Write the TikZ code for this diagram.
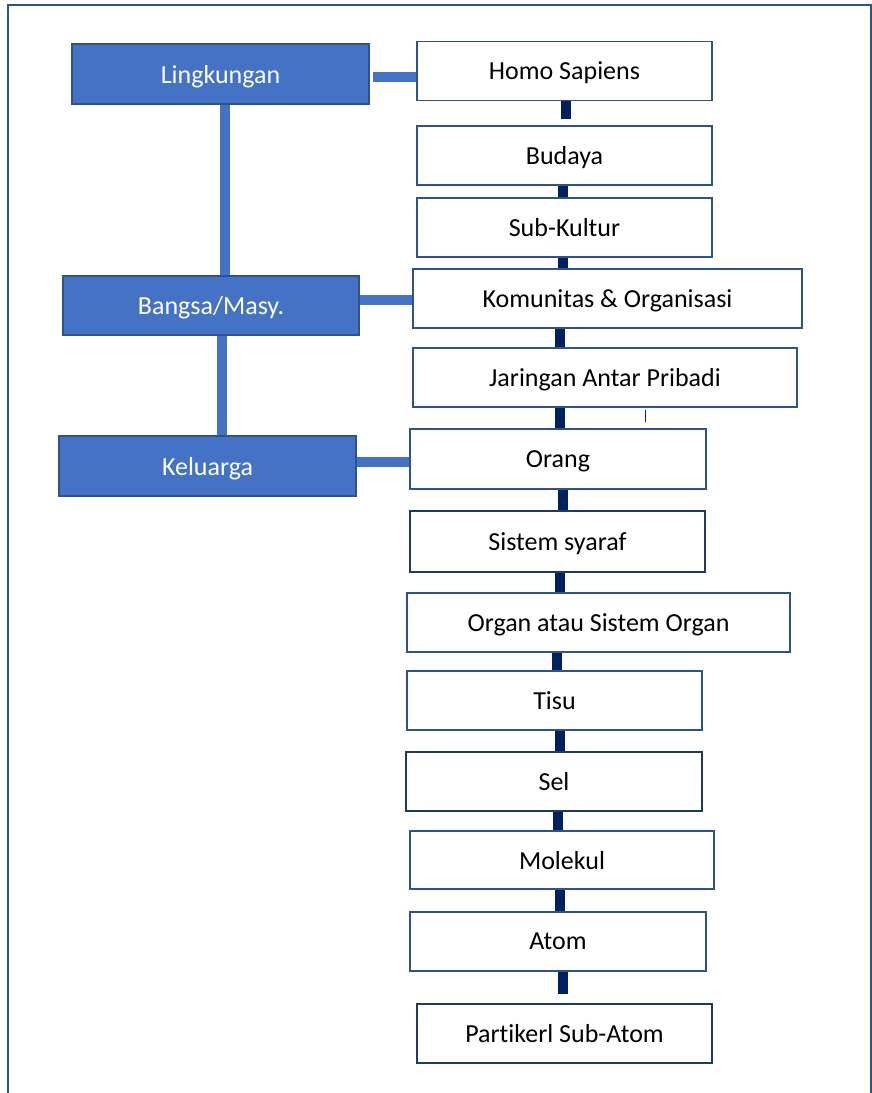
\documentclass[tikz,border=0pt]{standalone}
\usepackage{fontspec}
\setmainfont{Carlito}[Ligatures=CommonOff]
\usepackage{tikz}
\usetikzlibrary{positioning}
\definecolor{accblue}{HTML}{4472C4}
\definecolor{edgeblue}{HTML}{2F528F}
\definecolor{navy}{HTML}{002060}
\definecolor{deepnavy}{HTML}{1F3864}

\begin{document}
\begin{tikzpicture}[x=1pt,y=-1pt,
		level/.style={
		  draw=edgeblue,
		  line width=1.6pt,
		  fill=white,
		  minimum height=59pt,
		  inner sep=0pt,
		  text depth=0pt,
		  font=\fontsize{26}{30}\selectfont
		},
		strong/.style={
		  level,
		  draw=deepnavy,
		  line width=2.2pt
		},
		group/.style={
		  level,
		  fill=accblue,
		  text=white,
		  minimum width=297pt,
		  minimum height=60pt
		},
		link/.style={navy,line width=10pt},
		tie/.style={accblue,line width=10pt}
		]
		\useasboundingbox (0,0) rectangle (872,1093);
		\draw[edgeblue,line width=2pt] (8,1093) -- (8,5) -- (871,5) -- (871,1093);

		% right column
		\node[level,minimum width=295pt] at (564.5,71)
		  (homo) {Homo Sapiens};
		\node[level,minimum width=295pt] at (564.5,155.5)
		  (budaya) {Budaya};
		\node[level,minimum width=295pt] at (564.5,227.5)
		  (subkultur) {Sub-Kultur};
		\node[level,minimum width=389pt] at (607.5,298.5)
		  (komunitas) {Komunitas \& Organisasi};
		\node[level,minimum width=384pt] at (605,377.5)
		  (jaringan) {Jaringan Antar Pribadi};
		\node[level,minimum width=296pt,minimum height=60pt] at (558,459)
		  (orang) {Orang};
		\node[strong,minimum width=295pt,minimum height=61pt] at (557.5,541.5)
		  (syaraf) {Sistem syaraf};
		\node[level,minimum width=383pt] at (598.5,622.5)
		  (organ) {Organ atau Sistem Organ};
		\node[level,minimum width=295pt] at (554.5,700.5)
		  (tisu) {Tisu};
		\node[strong,minimum width=296pt] at (554,781.5)
		  (sel) {Sel};
		\node[level,minimum width=304pt,minimum height=58pt] at (562,860)
		  (molekul) {Molekul};
		\node[level,minimum width=296pt] at (558,941.5)
		  (atom) {Atom};
		\node[strong,minimum width=295pt] at (564.5,1033.5)
		  (partikel) {Partikerl Sub-Atom};

		% left column
		\node[group] at (220.5,74) (lingkungan) {Lingkungan};
		\node[group,minimum width=296pt,minimum height=59pt] at (211,305.5) (bangsa) {Bangsa/Masy.};
		\node[group] at (207.5,466) (keluarga) {Keluarga};

		\foreach \a/\b/\x/\t in {homo/budaya/566/6,budaya/subkultur/563/0,
		    subkultur/komunitas/563/0,komunitas/jaringan/560/0,jaringan/orang/560/0,
		    orang/syaraf/563/0,syaraf/organ/560/0,organ/tisu/557/0,tisu/sel/560/0,
		    sel/molekul/558/0,molekul/atom/560/0,atom/partikel/563/9}
		  \draw[link,shorten >=\t pt] (\a.south -| \x,0) -- (\b.north -| \x,0);

		\draw[tie] (lingkungan.south -| 225,0) -- (bangsa.north -| 225,0);
		\draw[tie] (bangsa.south -| 222,0) -- (keluarga.north -| 222,0);
		\draw[tie,shorten <=3pt] (lingkungan.east |- 0,77) -- (homo.west |- 0,77);
		\draw[tie] (bangsa.east |- 0,300) -- (komunitas.west |- 0,300);
		\draw[tie] (keluarga.east |- 0,462) -- (orang.west |- 0,462);

		\draw[navy,line width=1pt] (645,410) -- (645,422);
	\end{tikzpicture}
\end{document}
